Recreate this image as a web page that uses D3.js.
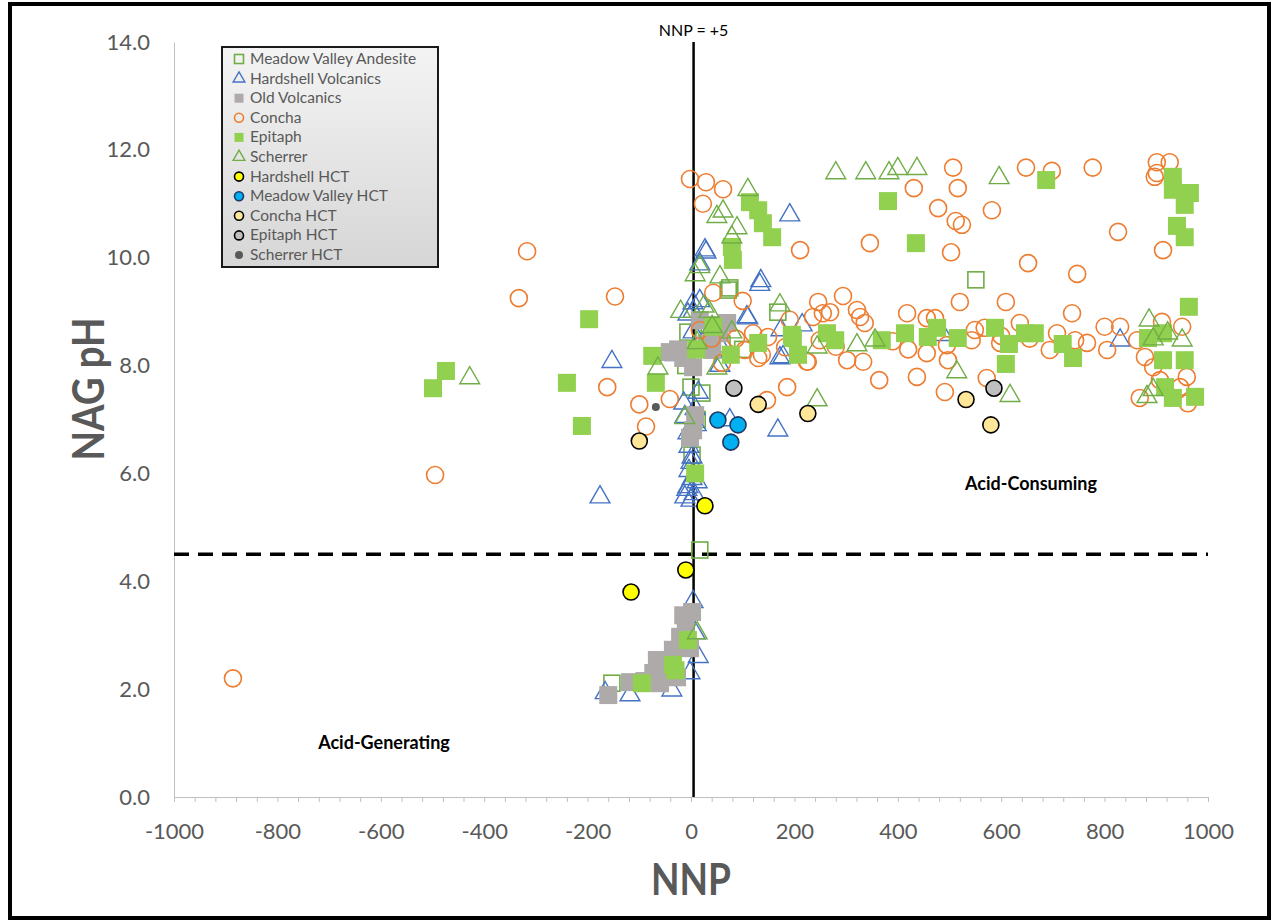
<!DOCTYPE html>
<html>
<head>
<meta charset="utf-8">
<script src="https://cdn.jsdelivr.net/npm/d3@7"></script>
<style>
  body { margin: 0; background: #fff; }
  text { font-family: Lato, "Open Sans", sans-serif; }
</style>
</head>
<body>
<div id="chart"></div>
<script>
// [NNP, NAG pH]
const meadowValleyAndesite = [[551,9.59],[72,9.4],[168,8.99],[75,9.44],[-6,8.62],[21,7.49],[0,7.6],[2,6.34],[17,4.58],[-153,2.11],[60,8.4],[35,8.75],[100,8.3],[12,7.0],[-10,8.0]];
const hardshellVolcanics = [[-176,5.56],[-153,8.07],[191,10.79],[135,9.57],[27,10.14],[168,6.8],[174,8.66],[178,8.16],[215,8.75],[830,8.47],[487,8.57],[110,8.88],[172,8.14],[75,6.99],
  [4,9.16],[-6,8.95],[4,8.62],[14,7.5],[-12,7.05],[-6,6.75],[2,6.3],[-6,5.75],[-12,5.56],[12,5.84],[56,8.0],
  [29,10.1],[17,9.88],[133,9.5],[17,9.2],[108,8.9],[4,9.0],
  [4,3.62],[8,3.04],[14,2.6],[-118,1.89],[-37,1.98],[-2,2.3],[-166,1.93],
  [0,6.2],[-4,6.05],[2,5.9],[-8,5.7],[6,5.62],[0,5.5],[-14,7.3],[8,7.2],[-4,6.5],[10,6.9],[40,8.7],[25,8.3],[-30,8.2],[60,8.3]];
const oldVolcanics = [[-15,3.37],[2,3.43],[-21,2.97],[-2,2.76],[-66,2.54],[-35,2.73],[-73,2.3],[-60,2.11],[-118,2.13],[-160,1.89],[-27,2.22],[-10,3.2],[-50,2.4],[-90,2.15],
  [-41,8.25],[-15,8.14],[4,7.97],[41,8.29],[70,8.79],[17,8.84],[8,7.08],[-2,6.66],[4,6.8],[-25,8.3],[55,8.6],[30,8.4]];
const concha = [[-886,2.2],[-495,5.97],[-317,10.12],[-333,9.25],[-147,9.28],[-162,7.6],[-100,7.28],[-87,6.87],[-41,7.38],[-2,11.46],[29,11.4],[62,11.27],[23,11.0],[43,9.35],[100,9.2],[211,10.14],
  [507,11.67],[431,11.29],[516,11.29],[478,10.92],[512,10.68],[524,10.61],[582,10.88],[648,11.67],[698,11.61],[777,11.67],[901,11.77],[926,11.77],[901,11.57],[897,11.5],[826,10.48],[913,10.14],[346,10.27],[503,10.1],[652,9.9],[747,9.7],
  [246,9.18],[294,9.29],[236,8.9],[269,8.99],[321,9.03],[327,8.9],[336,8.79],[418,8.97],[456,8.88],[472,8.88],[520,9.18],[609,9.18],[737,8.97],[800,8.72],[830,8.72],[950,8.72],[911,8.81],[191,8.85],[549,8.66],[568,8.7],[636,8.79],[708,8.6],[249,8.47],[302,8.1],[333,8.07],[226,8.07],[456,8.23],[495,8.38],[497,8.1],[598,8.42],[543,8.47],[694,8.29],[743,8.47],[766,8.42],[805,8.29],[863,8.47],[878,8.16],[894,7.97],[959,7.79],[907,7.73],[868,7.4],[961,7.3],[186,7.6],[364,7.73],[437,7.79],[491,7.51],[572,7.77],[946,7.6],
  [255,8.97],[130,8.14],[147,7.36],[182,8.34],[149,8.53],[137,8.2],[224,8.07],[87,8.5],[17,8.66],[104,8.29],[60,8.05],[40,8.5],[120,8.6],[280,8.35],[390,8.45],[420,8.3],[600,8.55],[655,8.5]];
const epitaph = [[-499,7.58],[-474,7.9],[-240,7.68],[-211,6.88],[-197,8.86],[-75,8.18],[-68,7.68],[10,8.3],[8,6.0],[77,8.2],[130,8.42],[197,8.51],[207,8.2],[43,8.72],
  [114,11.03],[130,10.88],[139,10.64],[157,10.38],[79,10.2],[81,9.96],
  [381,11.05],[687,11.44],[435,10.27],[932,11.5],[932,11.26],[965,11.2],[955,10.98],[940,10.59],[955,10.38],[963,9.09],
  [195,8.57],[263,8.6],[279,8.47],[369,8.47],[414,8.6],[458,8.53],[476,8.7],[516,8.51],[588,8.7],[615,8.4],[609,8.03],[646,8.6],[665,8.6],[719,8.4],[739,8.14],[884,8.51],[913,8.6],[913,8.1],[955,8.1],[917,7.6],[932,7.4],[975,7.42],
  [-6,2.91],[-35,2.45],[-95,2.11],[-30,2.35]];
const scherrer = [[-428,7.77],[-64,7.95],[-12,7.03],[12,8.42],[41,8.72],[50,7.95],[79,8.62],[244,7.36],
  [110,11.26],[50,10.76],[62,10.86],[89,10.55],[79,10.38],[17,9.83],[56,9.64],[8,9.68],
  [280,11.57],[338,11.57],[383,11.57],[400,11.65],[437,11.65],[596,11.48],[172,9.12],[244,8.34],[321,8.38],[356,8.47],[514,7.88],[617,7.44],[886,8.84],[894,8.49],[922,8.6],[950,8.47],[894,7.55],[882,7.42],
  [12,3.04],[25,9.1],[35,9.0],[-20,9.0]];
const hardshellHCT = [[-116,3.8],[-10,4.21],[27,5.4]];
const meadowValleyHCT = [[52,6.99],[91,6.9],[77,6.58]];
const conchaHCT = [[-100,6.6],[130,7.28],[226,7.11],[532,7.37],[580,6.9]];
const epitaphHCT = [[83,7.58],[586,7.58]];
const scherrerHCT = [[-68,7.23]];

const xTicks = d3.range(-1000, 1001, 200);
const yTicks = d3.range(0, 14.1, 2);
const nnpLine = 5;
const phLine = 4.5;

const series = [
  { name: "Meadow Valley Andesite", data: meadowValleyAndesite, shape: "square", size: 16, fill: "none", stroke: "#70ad47" },
  { name: "Hardshell Volcanics", data: hardshellVolcanics, shape: "triangle", size: 170, fill: "none", stroke: "#4472c4" },
  { name: "Old Volcanics", data: oldVolcanics, shape: "square", size: 18, fill: "#aeaaaa", stroke: "none" },
  { name: "Concha", data: concha, shape: "circle", size: 8.5, fill: "none", stroke: "#ed7d31" },
  { name: "Epitaph", data: epitaph, shape: "square", size: 18, fill: "#92d050", stroke: "none" },
  { name: "Scherrer", data: scherrer, shape: "triangle", size: 170, fill: "none", stroke: "#70ad47" },
  { name: "Hardshell HCT", data: hardshellHCT, shape: "circle", size: 8, fill: "#ffff00", stroke: "#000" },
  { name: "Meadow Valley HCT", data: meadowValleyHCT, shape: "circle", size: 8, fill: "#00b0f0", stroke: "#1f3864" },
  { name: "Concha HCT", data: conchaHCT, shape: "circle", size: 8, fill: "#ffe699", stroke: "#000" },
  { name: "Epitaph HCT", data: epitaphHCT, shape: "circle", size: 8, fill: "#bfbfbf", stroke: "#000" },
  { name: "Scherrer HCT", data: scherrerHCT, shape: "circle", size: 4, fill: "#595959", stroke: "none" }
];

const width = 1274, height = 924;
const svg = d3.select("#chart").append("svg")
  .attr("width", width)
  .attr("height", height);

svg.append("rect").attr("width", width).attr("height", height).attr("fill", "#fff");

const x = d3.scaleLinear().domain([-1000, 1000]).range([174, 1208]);
const y = d3.scaleLinear().domain([0, 14]).range([797, 42]);

// axes
const xAxis = svg.append("g")
  .attr("transform", `translate(0, ${y(0)})`)
  .call(d3.axisBottom(x).tickValues(d3.range(-1000, 1001, 40)).tickSize(5).tickFormat(""));
xAxis.select(".domain").attr("stroke", "#bfbfbf");
xAxis.selectAll(".tick line").attr("stroke", "#bfbfbf");

const xLabels = svg.append("g")
  .attr("transform", `translate(0, ${y(0)})`)
  .call(d3.axisBottom(x).tickValues(xTicks).tickSize(0).tickPadding(26).tickFormat(d => String(d)));
xLabels.select(".domain").remove();
xLabels.selectAll("text").attr("font-size", 22).attr("fill", "#595959").attr("font-family", "Lato");

const yAxis = svg.append("g")
  .attr("transform", `translate(${x(-1000)}, 0)`)
  .call(d3.axisLeft(y).tickValues(yTicks).tickSize(0).tickPadding(24).tickFormat(d3.format(".1f")));
yAxis.select(".domain").attr("stroke", "#bfbfbf");
yAxis.selectAll("text").attr("font-size", 22).attr("fill", "#595959").attr("font-family", "Lato");

// reference lines
svg.append("line")
  .attr("x1", x(-1000)).attr("x2", x(1000))
  .attr("y1", y(phLine)).attr("y2", y(phLine))
  .attr("stroke", "#000").attr("stroke-width", 3.5).attr("stroke-dasharray", "15,9");

svg.append("line")
  .attr("x1", x(nnpLine)).attr("x2", x(nnpLine))
  .attr("y1", y(14)).attr("y2", y(0))
  .attr("stroke", "#000").attr("stroke-width", 2.5);

svg.append("text")
  .attr("x", x(nnpLine)).attr("y", 36)
  .attr("text-anchor", "middle")
  .attr("font-size", 16)
  .text("NNP = +5");

// markers
function drawMarker(g, s, px, py, scale) {
  if (s.shape === "circle") {
    g.append("circle").attr("cx", px).attr("cy", py).attr("r", s.size * scale)
      .attr("fill", s.fill).attr("stroke", s.stroke).attr("stroke-width", s.stroke === "none" ? 0 : 1.6);
  } else if (s.shape === "square") {
    const w = s.size * scale;
    g.append("rect").attr("x", px - w / 2).attr("y", py - w / 2).attr("width", w).attr("height", w)
      .attr("fill", s.fill).attr("stroke", s.stroke).attr("stroke-width", s.stroke === "none" ? 0 : 1.6);
  } else {
    g.append("path")
      .attr("transform", `translate(${px},${py})`)
      .attr("d", d3.symbol(d3.symbolTriangle, s.size * scale * scale)())
      .attr("fill", s.fill).attr("stroke", s.stroke).attr("stroke-width", 1.4);
  }
}

const plot = svg.append("g");
series.forEach(s => {
  const g = plot.append("g");
  s.data.forEach(d => drawMarker(g, s, x(d[0]), y(d[1]), 1));
});

// region labels
svg.append("text").attr("x", 1031).attr("y", 490).attr("text-anchor", "middle")
  .attr("font-size", 18).attr("font-weight", "bold").text("Acid-Consuming");
svg.append("text").attr("x", 384).attr("y", 749).attr("text-anchor", "middle")
  .attr("font-size", 18).attr("font-weight", "bold").text("Acid-Generating");

// axis titles
svg.append("text").attr("x", x(0)).attr("y", 895).attr("text-anchor", "middle")
  .attr("font-size", 44).attr("font-weight", "bold").attr("fill", "#595959")
  .attr("textLength", 80).attr("lengthAdjust", "spacingAndGlyphs").text("NNP");
svg.append("text").attr("transform", "translate(104, 389) rotate(-90)").attr("text-anchor", "middle")
  .attr("font-size", 44).attr("font-weight", "bold").attr("fill", "#595959")
  .attr("textLength", 143).attr("lengthAdjust", "spacingAndGlyphs").text("NAG pH");

// legend
const defs = svg.append("defs");
const grad = defs.append("linearGradient").attr("id", "legGrad").attr("x1", 0).attr("x2", 0).attr("y1", 0).attr("y2", 1);
grad.append("stop").attr("offset", "0%").attr("stop-color", "#f4f4f4");
grad.append("stop").attr("offset", "100%").attr("stop-color", "#d6d6d6");

const legend = svg.append("g").attr("transform", "translate(222, 47)");
legend.append("rect").attr("width", 216).attr("height", 220)
  .attr("fill", "url(#legGrad)").attr("stroke", "#1a1a1a").attr("stroke-width", 2);
series.forEach((s, i) => {
  const ly = 12 + i * 19.6;
  const ls = s.shape === "triangle" ? { ...s, size: 60 } :
    s.shape === "circle" ? { ...s, size: s.name === "Scherrer HCT" ? 4 : 4.5 } : { ...s, size: 9 };
  drawMarker(legend, ls, 17, ly, 1);
  legend.append("text").attr("x", 28).attr("y", ly + 5)
    .attr("font-size", 15.5).attr("fill", "#595959").text(s.name);
});

// outer frame
svg.append("rect").attr("x", 10).attr("y", 4).attr("width", 1259).attr("height", 914)
  .attr("fill", "none").attr("stroke", "#000").attr("stroke-width", 4);
</script>
</body>
</html>
